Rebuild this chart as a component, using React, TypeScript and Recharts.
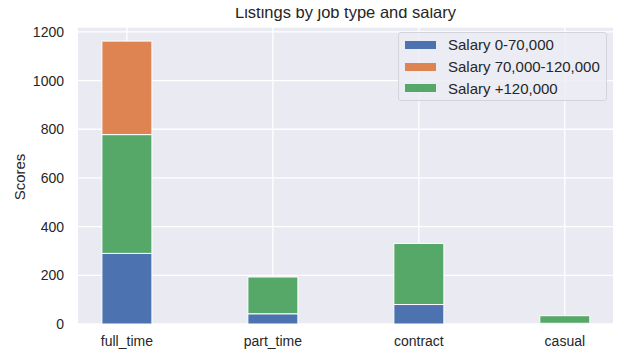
import { Bar, BarChart, CartesianGrid, Label, Legend, XAxis, YAxis } from "recharts";

const jobTypes = ["full_time", "part_time", "contract", "casual"];
const salaryLow = [290, 42, 80, 3];
const salaryHigh = [488, 151, 251, 31];
const salaryMid = [384, 0, 0, 0];
const yTicks = [0, 200, 400, 600, 800, 1000, 1200];

const BLUE = "#4C72B0";
const ORANGE = "#DD8452";
const GREEN = "#55A868";
const FONT = "'Liberation Sans', Arial, sans-serif";

const data = jobTypes.map((name, i) => ({
  x: i,
  name,
  low: salaryLow[i],
  high: salaryHigh[i],
  mid: salaryMid[i],
}));

const legendItems = [
  { label: "Salary 0-70,000", color: BLUE },
  { label: "Salary 70,000-120,000", color: ORANGE },
  { label: "Salary +120,000", color: GREEN },
];

function SalaryLegend() {
  return (
    <div
      style={{
        position: "absolute",
        left: 398,
        top: 32,
        width: 209,
        height: 69,
        boxSizing: "border-box",
        background: "rgba(236,236,244,0.85)",
        border: "1px solid #d4d4dc",
        borderRadius: 3,
        padding: "1px 0 0 6px",
        fontFamily: FONT,
        fontSize: 15,
        color: "#262626",
      }}
    >
      {legendItems.map((it) => (
        <div key={it.label} style={{ display: "flex", alignItems: "center", height: 21.7 }}>
          <span style={{ display: "inline-block", width: 31, height: 8, background: it.color, marginRight: 12 }} />
          <span>{it.label}</span>
        </div>
      ))}
    </div>
  );
}

export default function App() {
  return (
    <div style={{ position: "relative", width: 632, height: 358, margin: -8, background: "#fff" }}>
      <BarChart
        width={632}
        height={358}
        data={data}
        margin={{ top: 27, right: 19, left: 0, bottom: 0 }}
        style={{ fontFamily: FONT }}
      >
        <CartesianGrid fill="#EAEAF2" fillOpacity={1} stroke="#ffffff" strokeWidth={1.3} verticalValues={[0, 1, 2, 3]} />
        <XAxis
          type="number"
          dataKey="x"
          domain={[-0.335, 3.33]}
          ticks={[0, 1, 2, 3]}
          allowDataOverflow
          tickFormatter={(i) => jobTypes[i] ?? ""}
          height={34}
          axisLine={false}
          tickLine={false}
          tickSize={0}
          tickMargin={12}
          tick={{ fontSize: 14, fill: "#262626" }}
        />
        <YAxis
          domain={[0, 1220]}
          ticks={yTicks}
          width={78}
          axisLine={false}
          tickLine={false}
          tickSize={0}
          tickMargin={14}
          tick={{ fontSize: 14, fill: "#262626" }}
        >
          <Label
            content={() => (
              <g fontFamily={FONT} fill="#262626">
                <text x={345.5} y={18} textAnchor="middle" fontSize={16.5}>
                  Listings by job type and salary
                </text>
                <text
                  x={19}
                  y={177}
                  transform="rotate(-90 19 177)"
                  textAnchor="middle"
                  dominantBaseline="central"
                  fontSize={15}
                >
                  Scores
                </text>
              </g>
            )}
          />
        </YAxis>
        <Legend content={() => null} />
        <Bar dataKey="low" stackId="a" fill={BLUE} stroke="#fff" strokeWidth={1} barSize={50} isAnimationActive={false} />
        <Bar dataKey="high" stackId="a" fill={GREEN} stroke="#fff" strokeWidth={1} barSize={50} isAnimationActive={false} />
        <Bar dataKey="mid" stackId="a" fill={ORANGE} stroke="#fff" strokeWidth={1} barSize={50} isAnimationActive={false} />
      </BarChart>
      <SalaryLegend />
    </div>
  );
}
